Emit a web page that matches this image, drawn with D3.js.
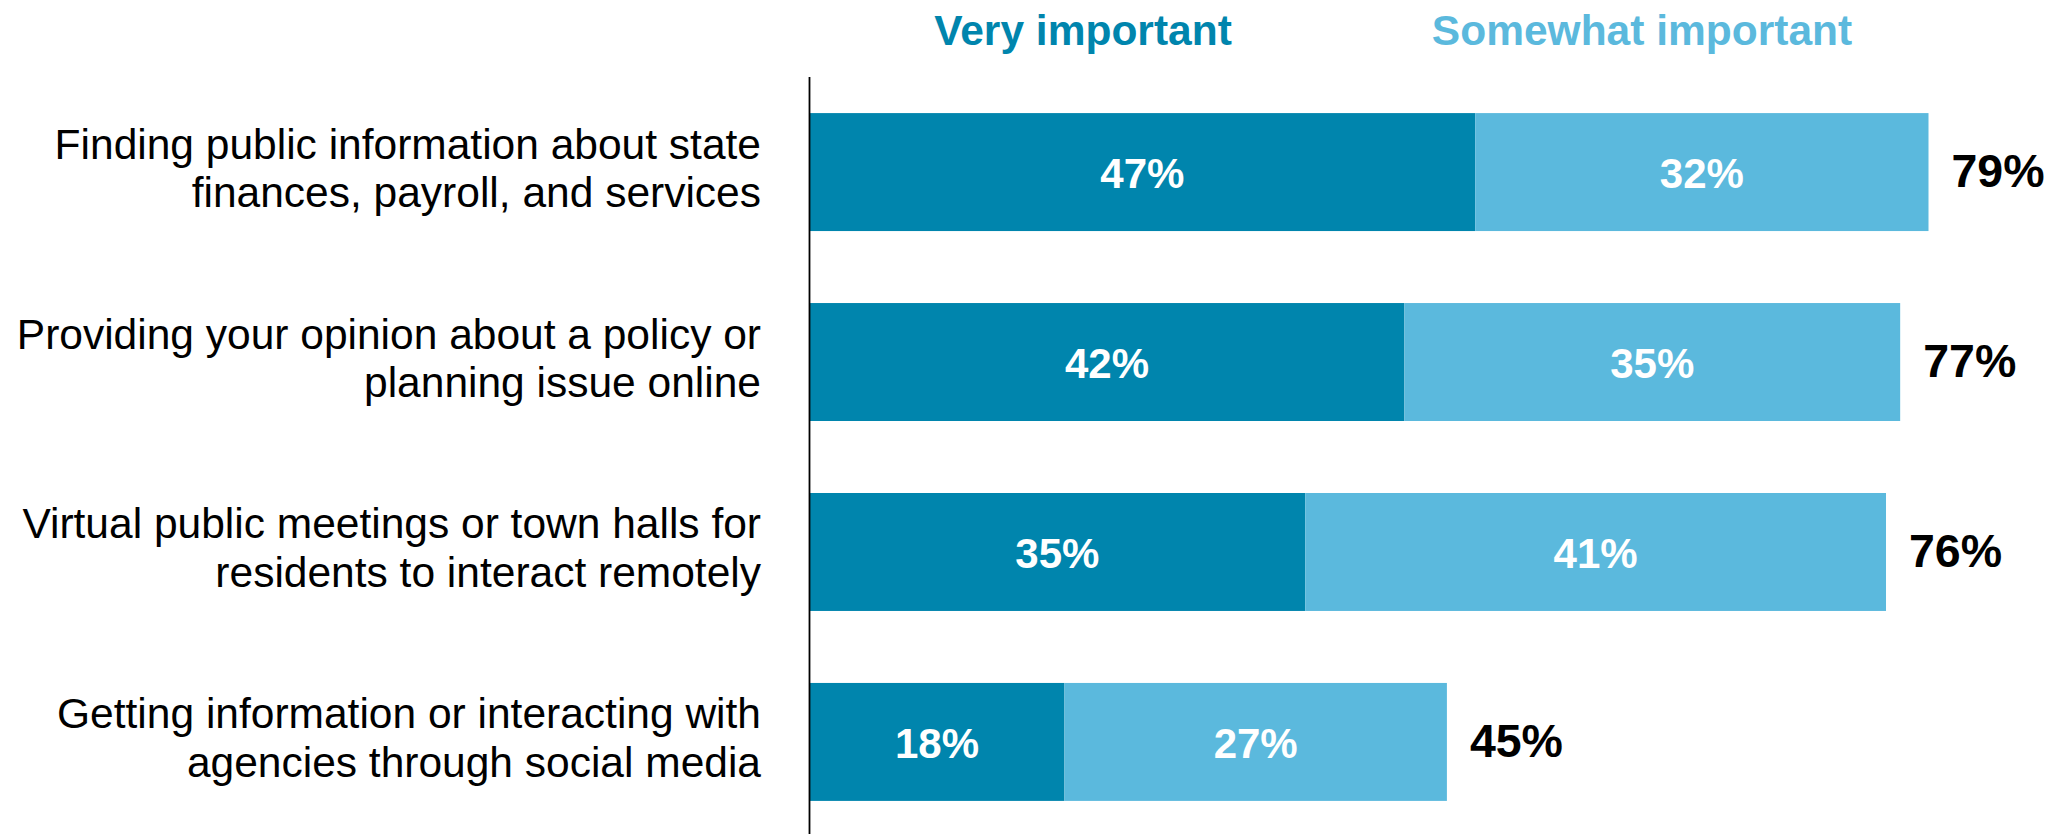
<!DOCTYPE html>
<html>
<head>
<meta charset="utf-8">
<script src="https://cdn.jsdelivr.net/npm/d3@7"></script>
<style>
  html, body { margin: 0; padding: 0; background: #fff; }
  svg { display: block; font-family: "Liberation Sans", Arial, sans-serif; }
</style>
</head>
<body>
<svg id="chart" width="2057" height="834"></svg>
<script>
// Survey items (each label wrapped onto two lines)
const categories = [
  ["Finding public information about state", "finances, payroll, and services"],
  ["Providing your opinion about a policy or", "planning issue online"],
  ["Virtual public meetings or town halls for", "residents to interact remotely"],
  ["Getting information or interacting with", "agencies through social media"]
];
const seriesNames = ["Very important", "Somewhat important"];
const veryImportant = [47, 42, 35, 18];
const somewhatImportant = [32, 35, 41, 27];
const totals = [79, 77, 76, 45];

const colors = ["#0085ad", "#5bb9dd"];

const svg = d3.select("#chart");

const x = d3.scaleLinear().domain([0, 79]).range([809.5, 1928.5]);
const y = d3.scaleBand()
  .domain(d3.range(categories.length))
  .range([77, 837])
  .paddingInner(0.379)
  .paddingOuter(0.19);

const rows = categories.map((c, i) => ({
  i,
  segs: [
    { s: 0, x0: 0, x1: veryImportant[i], v: veryImportant[i] },
    { s: 1, x0: veryImportant[i], x1: veryImportant[i] + somewhatImportant[i], v: somewhatImportant[i] }
  ]
}));

// Stacked bars
const g = svg.append("g");
const row = g.selectAll("g.row").data(rows).join("g").attr("class", "row");

row.selectAll("rect")
  .data(d => d.segs.map(s => ({ ...s, i: d.i })))
  .join("rect")
  .attr("x", d => x(d.x0))
  .attr("y", d => y(d.i))
  .attr("width", d => x(d.x1) - x(d.x0))
  .attr("height", y.bandwidth())
  .attr("fill", d => colors[d.s]);

// Segment value labels
row.selectAll("text.val")
  .data(d => d.segs.map(s => ({ ...s, i: d.i })))
  .join("text")
  .attr("class", "val")
  .attr("x", d => (x(d.x0) + x(d.x1)) / 2)
  .attr("y", d => y(d.i) + y.bandwidth() / 2 + 16)
  .attr("text-anchor", "middle")
  .attr("fill", "#fff")
  .attr("font-weight", "bold")
  .attr("font-size", 42)
  .text(d => d.v + "%");

// Totals to the right of each bar
svg.append("g").selectAll("text")
  .data(totals)
  .join("text")
  .attr("x", (d, i) => x(veryImportant[i] + somewhatImportant[i]) + 23)
  .attr("y", (d, i) => y(i) + y.bandwidth() / 2 + 15)
  .attr("fill", "#000")
  .attr("font-weight", "bold")
  .attr("font-size", 46.5)
  .text(d => d + "%");

// Category labels
const cat = svg.append("g").selectAll("text")
  .data(categories)
  .join("text")
  .attr("text-anchor", "end")
  .attr("font-size", 42.5)
  .attr("fill", "#000")
  .attr("y", (d, i) => y(i) + y.bandwidth() / 2);

cat.selectAll("tspan")
  .data(d => d)
  .join("tspan")
  .attr("x", 761)
  .attr("dy", (d, j) => j === 0 ? -13.5 : 48.5)
  .text(d => d);

// Vertical baseline axis
svg.append("line")
  .attr("x1", x(0)).attr("x2", x(0))
  .attr("y1", y.range()[0]).attr("y2", 834)
  .attr("stroke", "#000")
  .attr("stroke-width", 1.8);

// Legend headers
const legendX = [1083, 1642];
svg.append("g").selectAll("text")
  .data(seriesNames)
  .join("text")
  .attr("x", (d, i) => legendX[i])
  .attr("y", 45)
  .attr("text-anchor", "middle")
  .attr("font-weight", "bold")
  .attr("font-size", 42.5)
  .attr("fill", (d, i) => colors[i])
  .text(d => d);
</script>
</body>
</html>
